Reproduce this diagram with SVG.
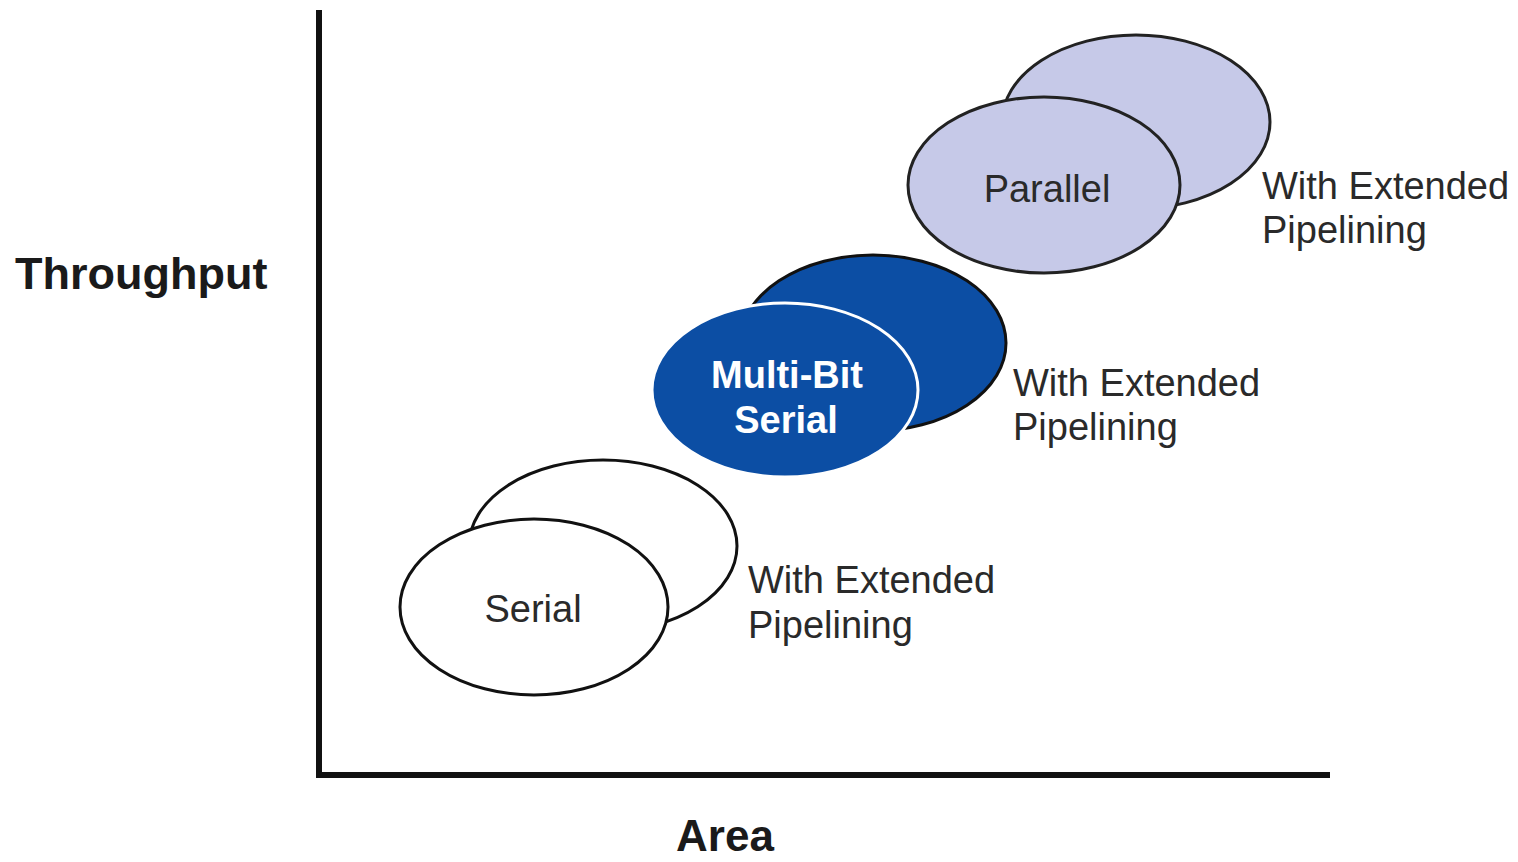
<svg xmlns="http://www.w3.org/2000/svg" width="1518" height="862" viewBox="0 0 1518 862">
<style>
text{font-family:"Liberation Sans",Arial,sans-serif;fill:#2a2a2a}
.ax{font-weight:bold;font-size:44px;fill:#1a1a1a}
.lbl{font-size:38px}
.in{font-size:38px;text-anchor:middle}
.inb{font-size:38px;font-weight:bold;text-anchor:middle;fill:#ffffff}
.wh{fill:#ffffff;stroke:#111;stroke-width:3}
.lav{fill:#c6c9e8;stroke:#222;stroke-width:3}
.blb{fill:#0c4ea4;stroke:#111;stroke-width:3}
.blf{fill:#0c4ea4;stroke:#ffffff;stroke-width:3}
.axis{stroke:#111;stroke-width:6;fill:none}
</style>
<rect width="1518" height="862" fill="#ffffff"/>
<g id="axes">
<line class="axis" x1="319" y1="10" x2="319" y2="778"/>
<line class="axis" x1="316" y1="775" x2="1330" y2="775"/>
</g>
<text class="ax" x="15" y="289" style="font-size:45px">Throughput</text>
<text class="ax" x="725" y="851" text-anchor="middle">Area</text>
<g id="serial">
<ellipse class="wh" cx="603" cy="546" rx="134" ry="86"/>
<ellipse class="wh" cx="534" cy="607" rx="134" ry="88"/>
<text class="in" x="533" y="622">Serial</text>
<text class="lbl" x="748" y="593">With Extended</text>
<text class="lbl" x="748" y="638">Pipelining</text>
</g>
<g id="multibit">
<ellipse class="blb" cx="873" cy="343" rx="133" ry="88"/>
<ellipse class="blf" cx="785" cy="390" rx="133" ry="87"/>
<text class="inb" x="787" y="388">Multi-Bit</text>
<text class="inb" x="786" y="433">Serial</text>
<text class="lbl" x="1013" y="396">With Extended</text>
<text class="lbl" x="1013" y="440">Pipelining</text>
</g>
<g id="parallel">
<ellipse class="lav" cx="1136" cy="122" rx="134" ry="87"/>
<ellipse class="lav" cx="1044" cy="185" rx="136" ry="88"/>
<text class="in" x="1047" y="202">Parallel</text>
<text class="lbl" x="1262" y="199">With Extended</text>
<text class="lbl" x="1262" y="243">Pipelining</text>
</g>
<g id="connectors"></g>
</svg>
